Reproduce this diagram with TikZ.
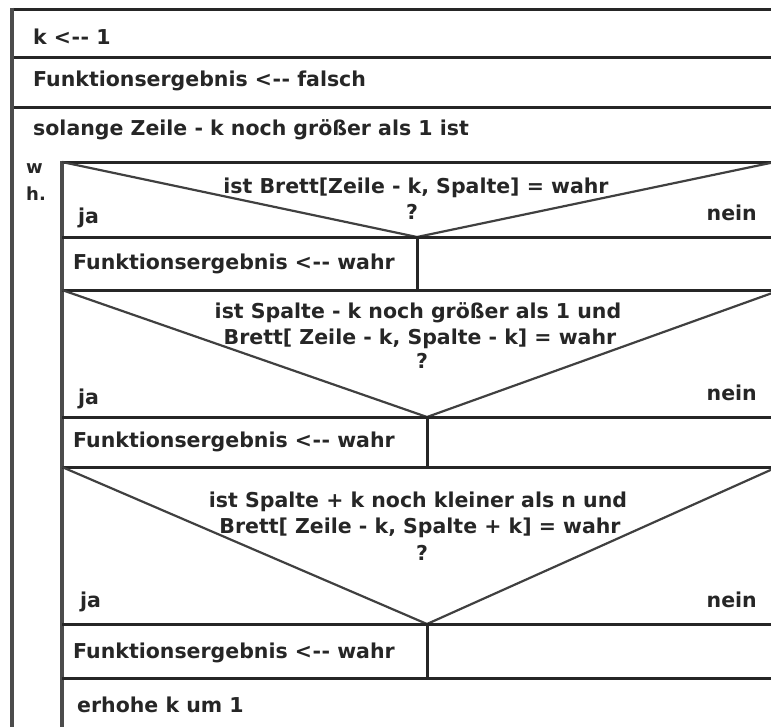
\documentclass[tikz,border=0pt]{standalone}
\usepackage{fontspec}
\setmainfont{DejaVu Sans}
\newcommand{\asg}{<\kern0.5pt-\kern0.5pt-}
\begin{document}
\begin{tikzpicture}[x=1pt,y=-1pt,
  ln/.style={draw=black!85,line width=3pt},
  vl/.style={draw=black!70,line width=3.4pt},
  dg/.style={draw=black!75,line width=2.2pt},
  txt/.style={inner sep=0pt,text=black!85,font=\bfseries\fontsize{20.5}{24}\selectfont},
  lt/.style={txt,anchor=west},
  ct/.style={txt,align=center}]
\useasboundingbox (0,0) rectangle (771,726);
\begin{scope}
\clip (0,0) rectangle (771,726);
% outer
\draw[ln] (12,9) -- (775,9);
\draw[ln] (12,57) -- (775,57);
\draw[ln] (12,107) -- (775,107);
\draw[vl] (12,7.5) -- (12,730);
% loop body
\draw[ln] (62,162) -- (775,162);
\draw[vl] (62,160.5) -- (62,730);
% if 1
\draw[dg] (62,162) -- (417,237) -- (775,162);
\draw[ln] (62,237) -- (775,237);
\draw[ln] (417,237) -- (417,290);
\draw[ln] (62,290) -- (775,290);
% if 2
\draw[dg] (62,290) -- (427,417) -- (775,292);
\draw[ln] (62,417) -- (775,417);
\draw[ln] (427,417) -- (427,467);
\draw[ln] (62,467) -- (775,467);
% if 3
\draw[dg] (62,467) -- (427,624) -- (775,468);
\draw[ln] (62,624) -- (775,624);
\draw[ln] (427,624) -- (427,678);
\draw[ln] (62,678) -- (775,678);
\end{scope}
% texts
\node[lt] (t1) at (33,37) {k \asg{} 1};
\node[lt] (t2) at (33,81) {Funktionsergebnis \asg{} falsch};
\node[lt] (t3) at (33,130) {solange Zeile - k noch größer als 1 ist};
\node[txt,anchor=west,align=left,font=\bfseries\fontsize{18}{27}\selectfont] (t4) at (26,182) {w\\h.};
% if1
\node[ct] (c1) at (416,188) {ist Brett[Zeile - k, Spalte] = wahr};
\node[ct] (q1) at (412,212) {?};
\node[lt] (j1) at (78,218) {ja};
\node[txt,anchor=east] (n1) at (757,213) {nein};
\node[lt] (f1) at (73,264) {Funktionsergebnis \asg{} wahr};
% if2
\node[ct] (c2a) at (418,313) {ist Spalte - k noch größer als 1 und};
\node[ct] (c2b) at (420,339) {Brett[ Zeile - k, Spalte - k] = wahr};
\node[ct] (q2) at (422,361) {?};
\node[lt] (j2) at (78,399) {ja};
\node[txt,anchor=east] (n2) at (757,393) {nein};
\node[lt] (f2) at (73,442) {Funktionsergebnis \asg{} wahr};
% if3
\node[ct] (c3a) at (418,502) {ist Spalte + k noch kleiner als n und};
\node[ct] (c3b) at (420,528) {Brett[ Zeile - k, Spalte + k] = wahr};
\node[ct] (q3) at (422,553) {?};
\node[lt] (j3) at (80,602) {ja};
\node[txt,anchor=east] (n3) at (757,600) {nein};
\node[lt] (f3) at (73,653) {Funktionsergebnis \asg{} wahr};
\node[lt] (e1) at (77,705) {erhohe k um 1};
\end{tikzpicture}
\end{document}
